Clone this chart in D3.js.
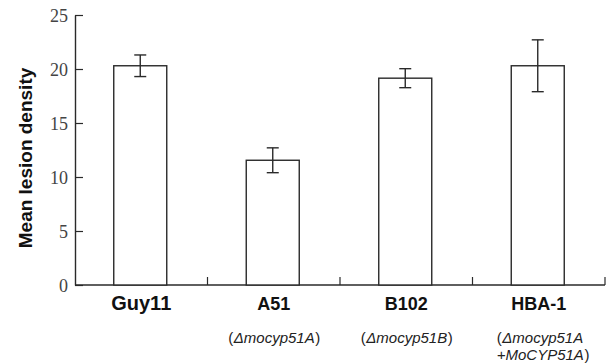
<!DOCTYPE html>
<html>
<head>
<meta charset="utf-8">
<script src="https://cdn.jsdelivr.net/npm/d3@7"></script>
<style>
  body { margin: 0; background: #fff; }
  svg { display: block; }
</style>
</head>
<body>
<div id="chart"></div>
<script>
const strains = ['Guy11', 'A51', 'B102', 'HBA-1'];
const genotypes = [[], ['(\u0394mocyp51A)'], ['(\u0394mocyp51B)'], ['(\u0394mocyp51A', '+MoCYP51A)']];
const means = [20.3, 11.55, 19.15, 20.3];
const errors = [1.0, 1.15, 0.88, 2.4];
const yTicks = [0, 5, 10, 15, 20, 25];

const width = 608, height = 363;
const plot = { left: 75, right: 605, top: 15, bottom: 285 };

const svg = d3.select('#chart').append('svg')
  .attr('width', width)
  .attr('height', height);

const x = d3.scaleBand().domain(strains).range([plot.left, plot.right]).padding(0);
const y = d3.scaleLinear().domain([0, 25]).range([plot.bottom, plot.top]);
const barW = 53;
const ink = '#2a2a2a';
const sans = '"Liberation Sans", Arial, sans-serif';

// y axis (ticks point inward)
const yAxis = svg.append('g')
  .attr('transform', 'translate(' + plot.left + ',0)')
  .call(d3.axisRight(y).tickValues(yTicks).tickSize(8).tickSizeOuter(0));
yAxis.select('.domain').attr('stroke', ink).attr('stroke-width', 1.4);
yAxis.selectAll('.tick line').attr('stroke', ink).attr('stroke-width', 1.2);
yAxis.selectAll('.tick text')
  .attr('x', -7)
  .attr('dy', '0.34em')
  .attr('text-anchor', 'end')
  .attr('font-family', '"Liberation Serif", serif')
  .attr('font-size', 18)
  .attr('fill', '#444');

// x axis line with boundary ticks pointing up
svg.append('line')
  .attr('x1', plot.left).attr('x2', plot.right)
  .attr('y1', plot.bottom).attr('y2', plot.bottom)
  .attr('stroke', ink).attr('stroke-width', 1.4);
svg.selectAll('.xtick')
  .data(strains)
  .enter().append('line')
  .attr('x1', d => x(d) + x.bandwidth())
  .attr('x2', d => x(d) + x.bandwidth())
  .attr('y1', plot.bottom).attr('y2', plot.bottom - 8)
  .attr('stroke', ink).attr('stroke-width', 1.2);

// bars
svg.selectAll('.bar')
  .data(strains)
  .enter().append('rect')
  .attr('x', d => x(d) + x.bandwidth() / 2 - barW / 2 - 1)
  .attr('y', (d, i) => y(means[i]))
  .attr('width', barW)
  .attr('height', (d, i) => plot.bottom - y(means[i]))
  .attr('fill', '#fff')
  .attr('stroke', ink)
  .attr('stroke-width', 1.4);

// error bars
const eb = svg.selectAll('.err')
  .data(strains)
  .enter().append('g')
  .attr('transform', d => 'translate(' + (x(d) + x.bandwidth() / 2 - 1) + ',0)');
eb.append('line')
  .attr('y1', (d, i) => y(means[i] + errors[i]))
  .attr('y2', (d, i) => y(means[i] - errors[i]))
  .attr('stroke', ink).attr('stroke-width', 1.4);
eb.append('line')
  .attr('x1', -6).attr('x2', 6)
  .attr('y1', (d, i) => y(means[i] + errors[i]))
  .attr('y2', (d, i) => y(means[i] + errors[i]))
  .attr('stroke', ink).attr('stroke-width', 1.4);
eb.append('line')
  .attr('x1', -6).attr('x2', 6)
  .attr('y1', (d, i) => y(means[i] - errors[i]))
  .attr('y2', (d, i) => y(means[i] - errors[i]))
  .attr('stroke', ink).attr('stroke-width', 1.4);

// category labels
svg.selectAll('.cat')
  .data(strains)
  .enter().append('text')
  .attr('x', d => x(d) + x.bandwidth() / 2)
  .attr('y', 310)
  .attr('text-anchor', 'middle')
  .attr('font-family', sans)
  .attr('font-weight', 'bold')
  .attr('font-size', (d, i) => i === 0 ? 20 : 18)
  .attr('fill', '#111')
  .text(d => d);

// genotype notes: upright parentheses, italic names, one text per piece
strains.forEach((s, i) => {
  const lines = genotypes[i];
  const cx = x(s) + x.bandwidth() / 2;
  lines.forEach((line, j) => {
    const parts = line.match(/^(\(?)(.*?)(\)?)$/);
    const g = svg.append('g');
    const pieces = [[parts[1], 'normal'], [parts[2], 'italic'], [parts[3], 'normal']]
      .filter(p => p[0]);
    const texts = pieces.map(p => g.append('text')
      .attr('y', 343 + j * 17)
      .attr('font-family', sans)
      .attr('font-size', 15)
      .attr('font-style', p[1])
      .attr('fill', '#222')
      .text(p[0]));
    const widths = texts.map(t => t.node().getComputedTextLength());
    const total = d3.sum(widths);
    let xpos = lines.length > 1 ? cx - 42 : cx - total / 2;
    texts.forEach((t, k) => { t.attr('x', xpos); xpos += widths[k] + 0.5; });
  });
});

// y axis title
svg.append('text')
  .attr('transform', 'translate(32,' + ((plot.top + plot.bottom) / 2 + 8) + ') rotate(-90)')
  .attr('text-anchor', 'middle')
  .attr('font-family', sans)
  .attr('font-weight', 'bold')
  .attr('font-size', 19)
  .attr('fill', '#111')
  .text('Mean lesion density');
</script>
</body>
</html>
